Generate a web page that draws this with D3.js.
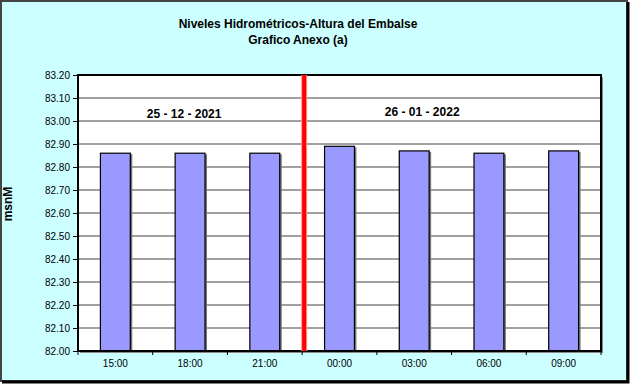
<!DOCTYPE html>
<meta charset="utf-8">
<style>
body { margin: 0; background: #fff; }
svg { display: block; font-family: Arial, "Liberation Sans", sans-serif; }
.grid line { stroke: #808080; stroke-width: 1.5; }
.axis text { font-size: 10px; fill: #000; }
.axis path, .axis line { stroke: #000; }
.titulo { font-size: 12px; font-weight: bold; }
.fecha { font-size: 12px; font-weight: bold; }
</style>
<svg width="631" height="384"></svg>
<script src="https://d3js.org/d3.v7.min.js"></script>
<script>
// datos
var horas = ["15:00", "18:00", "21:00", "00:00", "03:00", "06:00", "09:00"];
var niveles = [82.86, 82.86, 82.86, 82.89, 82.87, 82.86, 82.87];
var ticksY = [82.0, 82.1, 82.2, 82.3, 82.4, 82.5, 82.6, 82.7, 82.8, 82.9, 83.0, 83.1, 83.2];
var fechas = ["25 - 12 - 2021", "26 - 01 - 2022"];
var corte = 3; // cambio de dia despues de la 3ra barra

var svg = d3.select("svg");
var m = {left: 78, right: 601, top: 75, bottom: 351};

// fondo y marco exterior
svg.append("rect").attr("x", 1).attr("y", 1).attr("width", 626).attr("height", 380)
    .attr("fill", "#ccffff").attr("stroke", "#444").attr("stroke-width", 2);
svg.append("path").attr("d", "M628,2V382H2").attr("fill", "none").attr("stroke", "#000").attr("stroke-width", 3);

var x = d3.scaleBand().domain(horas).range([m.left, m.right]).paddingInner(0.6).paddingOuter(0.3);
var xb = d3.scaleBand().domain(horas).range([m.left, m.right]);
var y = d3.scaleLinear().domain([82.0, 83.2]).range([m.bottom, m.top]);

// area de grafico
svg.append("rect").attr("x", m.left + 2).attr("y", m.top + 2).attr("width", m.right - m.left).attr("height", m.bottom - m.top)
    .attr("fill", "#888");
svg.append("rect").attr("x", m.left).attr("y", m.top).attr("width", m.right - m.left).attr("height", m.bottom - m.top)
    .attr("fill", "#fff");

svg.append("g").attr("class", "grid")
  .selectAll("line").data(ticksY.slice(1, -1)).enter().append("line")
    .attr("x1", m.left).attr("x2", m.right)
    .attr("y1", d => y(d)).attr("y2", d => y(d));

// barras con sombra
svg.append("g").selectAll("rect").data(niveles).enter().append("rect")
    .attr("x", (d, i) => x(horas[i]) + 2).attr("y", d => y(d) + 1)
    .attr("width", x.bandwidth()).attr("height", d => m.bottom - y(d) - 1)
    .attr("fill", "#777");
svg.append("g").selectAll("rect").data(niveles).enter().append("rect")
    .attr("x", (d, i) => x(horas[i])).attr("y", d => y(d))
    .attr("width", x.bandwidth()).attr("height", d => m.bottom - y(d))
    .attr("fill", "#9999ff").attr("stroke", "#000").attr("stroke-width", 1.2);

svg.append("rect").attr("x", m.left).attr("y", m.top).attr("width", m.right - m.left).attr("height", m.bottom - m.top)
    .attr("fill", "none").attr("stroke", "#000").attr("stroke-width", 2);

// linea roja de cambio de dia
var xc = xb(horas[corte]);
svg.append("line").attr("x1", xc + 2).attr("x2", xc + 2).attr("y1", m.top).attr("y2", m.bottom)
    .attr("stroke", "#ff9999").attr("stroke-width", 6);
svg.append("line").attr("x1", xc + 2).attr("x2", xc + 2).attr("y1", m.top).attr("y2", m.bottom)
    .attr("stroke", "#ff0000").attr("stroke-width", 4);

// ejes
svg.append("g").attr("class", "axis").attr("transform", "translate(" + m.left + ",0)")
    .call(d3.axisLeft(y).tickValues(ticksY).tickFormat(d3.format(".2f")).tickSize(5).tickSizeOuter(0).tickPadding(3))
    .call(g => g.select(".domain").remove());

var xAxis = svg.append("g").attr("class", "axis").attr("transform", "translate(0," + m.bottom + ")");
xAxis.selectAll("line").data(horas.concat(["fin"])).enter().append("line")
    .attr("x1", (d, i) => m.left + i * xb.bandwidth()).attr("x2", (d, i) => m.left + i * xb.bandwidth())
    .attr("y1", 0).attr("y2", 4).attr("stroke", "#000");
xAxis.selectAll("text").data(horas).enter().append("text")
    .attr("x", d => xb(d) + xb.bandwidth() / 2).attr("y", 16)
    .attr("text-anchor", "middle").text(d => d);

// fechas
svg.append("text").attr("class", "fecha").attr("x", xb(horas[1]) + xb.bandwidth() / 2 - 6).attr("y", 118)
    .attr("text-anchor", "middle").text(fechas[0]);
svg.append("text").attr("class", "fecha").attr("x", xb(horas[4]) + xb.bandwidth() / 2 + 8).attr("y", 116)
    .attr("text-anchor", "middle").text(fechas[1]);

// titulos
svg.append("text").attr("class", "titulo").attr("x", 298).attr("y", 28).attr("text-anchor", "middle")
    .text("Niveles Hidrométricos-Altura del Embalse");
svg.append("text").attr("class", "titulo").attr("x", 298).attr("y", 44).attr("text-anchor", "middle")
    .text("Grafico Anexo (a)");
svg.append("text").attr("class", "titulo").attr("transform", "translate(12,204) rotate(-90)")
    .attr("text-anchor", "middle").text("msnM");
</script>
